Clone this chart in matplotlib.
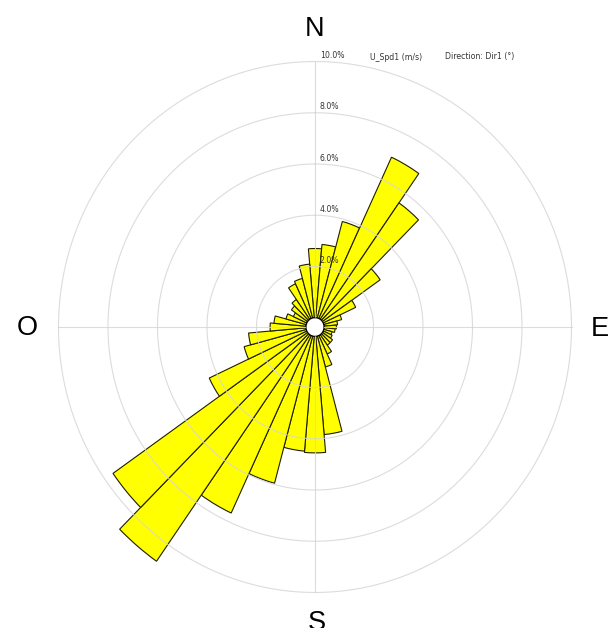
import numpy as np
import matplotlib
matplotlib.use("Agg")
import matplotlib.pyplot as plt

# Direction bins (degrees, clockwise from North) and frequency (%)
directions = [0, 10, 20, 30, 40, 50, 60, 70, 80, 90, 100, 110,
              120, 130, 140, 150, 160, 170, 180, 190, 200, 210, 220, 230,
              240, 250, 260, 270, 280, 290, 300, 310, 320, 330, 340, 350]
frequency = [2.7, 2.87, 3.9, 6.95, 5.55, 2.85, 1.45, 0.75, 0.55, 0.5, 0.45, 0.35,
             0.4, 0.5, 0.5, 0.8, 1.25, 3.85, 4.55, 4.5, 5.95, 7.65, 10.8, 9.6,
             4.35, 2.6, 2.33, 1.45, 1.3, 0.85, 0.6, 0.8, 0.95, 1.5, 1.6, 2.1]
ring_levels = [2, 4, 6, 8, 10]
ring_labels = ["2.0%", "4.0%", "6.0%", "8.0%", "10.0%"]
cardinals = ["N", "E", "S", "O"]

W, H = 608, 628
fig = plt.figure(figsize=(W / 100, H / 100), dpi=100)
fig.patch.set_facecolor("white")

cx, cy = 315, 301  # centre in pixels from bottom-left
rmax = 11.0
k = 24.75          # px per % horizontally
off = 9.0          # hole radius px
Rh = off + k * rmax
Rv = Rh * 1.035
ax = fig.add_axes([(cx - Rh) / W, (cy - Rv) / H, 2 * Rh / W, 2 * Rv / H],
                  projection="polar")
ax.set_aspect("auto")
ax.set_theta_zero_location("N")
ax.set_theta_direction(-1)
ax.set_ylim(0, rmax)
ax.set_rorigin(-off / k)
ax.grid(False)
ax.spines["polar"].set_visible(False)
ax.set_xticks([])
ax.set_yticks([])
ax.patch.set_alpha(0)

theta = np.deg2rad(directions)
ax.bar(theta, frequency, width=np.deg2rad(10), bottom=0,
       color="#ffff00", edgecolor="#1e1e00", linewidth=0.8, zorder=2)

gc = "#d6d6d6"
tt = np.linspace(0, 2 * np.pi, 400)
for lv in ring_levels:
    ax.plot(tt, np.full_like(tt, lv), color=gc, lw=0.8, alpha=0.85, zorder=3)
for a in [0, 90, 180, 270]:
    ax.plot([np.deg2rad(a)] * 2, [0, 10], color=gc, lw=0.8, alpha=0.85, zorder=3)

for lv, lab in zip(ring_levels, ring_labels):
    ax.annotate(lab, xy=(0, lv), xytext=(3.5, 1), textcoords="offset points",
                ha="left", va="bottom", fontsize=5.6, color="#333333",
                family="DejaVu Sans", zorder=4)

fig.text(370 / W, 1 - 57 / H, "U_Spd1 (m/s)", fontsize=5.6, color="#333333",
         ha="left", va="center", family="DejaVu Sans")
fig.text(445 / W, 1 - 57 / H, "Direction: Dir1 (°)", fontsize=5.6, color="#333333",
         ha="left", va="center", family="DejaVu Sans")

cpos = {"N": (315, 29), "E": (600, 329), "S": (317, 623), "O": (27, 328)}
for c in cardinals:
    x, y = cpos[c]
    fig.text(x / W, 1 - y / H, c, fontsize=19.5, ha="center", va="center",
             family="Liberation Sans", color="black")

fig.savefig("out.png", dpi=100, facecolor="white")
